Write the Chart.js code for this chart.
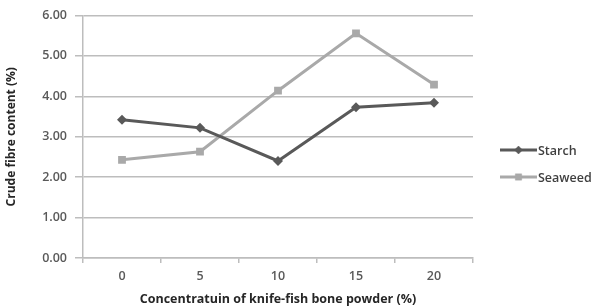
<!DOCTYPE html>
<html>
<head>
<meta charset="utf-8">
<script src="https://cdn.jsdelivr.net/npm/chart.js@4"></script>
<style>
  html, body { margin: 0; padding: 0; background: #fff; }
  #chart { display: block; }
</style>
</head>
<body>
<canvas id="chart" width="603" height="307"></canvas>
<script>
const categories = ["0", "5", "10", "15", "20"];
const starch = [3.42, 3.22, 2.40, 3.73, 3.84];
const seaweed = [2.43, 2.63, 4.14, 5.56, 4.29];
const seriesNames = ["Starch", "Seaweed"];

const FONT = "'Open Sans', 'Noto Sans', sans-serif";

// legend on the right: line sample with marker, then label
const sideLegend = {
  id: "sideLegend",
  afterDraw(chart) {
    const ctx = chart.ctx;
    const x0 = 500, x1 = 537;
    chart.data.datasets.forEach((ds, i) => {
      const y = 150 + i * 27;
      ctx.save();
      ctx.strokeStyle = ds.borderColor;
      ctx.fillStyle = ds.borderColor;
      ctx.lineWidth = ds.borderWidth;
      ctx.beginPath();
      ctx.moveTo(x0, y);
      ctx.lineTo(x1, y);
      ctx.stroke();
      ctx.lineWidth = 0.5;
      Chart.helpers.drawPoint(ctx, {
        pointStyle: ds.pointStyle,
        radius: ds.pointRadius - 1,
        borderWidth: 0.5
      }, (x0 + x1) / 2, y);
      ctx.fillStyle = "#404040";
      ctx.font = "600 12.5px " + FONT;
      ctx.textBaseline = "middle";
      ctx.fillText(ds.label, x1 + 1, y + 1);
      ctx.restore();
    });
  }
};

new Chart(document.getElementById("chart"), {
  type: "line",
  data: {
    labels: categories,
    datasets: [
      {
        label: seriesNames[0],
        data: starch,
        borderColor: "#595959",
        backgroundColor: "#595959",
        borderWidth: 3,
        pointStyle: "rectRot",
        pointRadius: 5,
        pointBorderWidth: 0
      },
      {
        label: seriesNames[1],
        data: seaweed,
        borderColor: "#a9a9a9",
        backgroundColor: "#a9a9a9",
        borderWidth: 3,
        pointStyle: "rect",
        pointRadius: 5.5,
        pointBorderWidth: 0
      }
    ]
  },
  options: {
    responsive: false,
    animation: false,
    layout: { padding: { left: 4, top: 10, right: 130, bottom: 0 } },
    plugins: {
      legend: { display: false },
      tooltip: { enabled: false }
    },
    scales: {
      x: {
        offset: true,
        grid: {
          offset: true,
          drawOnChartArea: false,
          color: "#bdbdbd",
          lineWidth: 1.5,
          tickLength: 5
        },
        border: { color: "#bdbdbd", width: 1.5 },
        ticks: {
          color: "#595959",
          font: { family: FONT, size: 12.5, weight: "600" },
          padding: 6
        },
        title: {
          display: true,
          text: "Concentratuin of knife-fish bone powder (%)",
          color: "#262626",
          font: { family: FONT, size: 12.5, weight: "bold" },
          padding: { top: 1, bottom: 0 }
        },
        afterFit(scale) { scale.height = 49; }
      },
      y: {
        min: 0,
        max: 6,
        grid: {
          color: "#bdbdbd",
          lineWidth: 1.5,
          tickLength: 8
        },
        border: { color: "#bdbdbd", width: 1.5 },
        ticks: {
          stepSize: 1,
          color: "#595959",
          font: { family: FONT, size: 12.5, weight: "600" },
          padding: 8,
          callback: v => v.toFixed(2)
        },
        title: {
          display: true,
          text: "Crude fibre content (%)",
          color: "#262626",
          font: { family: FONT, size: 12, weight: "bold" },
          padding: { top: 0, bottom: 4 }
        },
        afterFit(scale) { scale.width = 79; }
      }
    }
  },
  plugins: [sideLegend]
});
</script>
</body>
</html>
